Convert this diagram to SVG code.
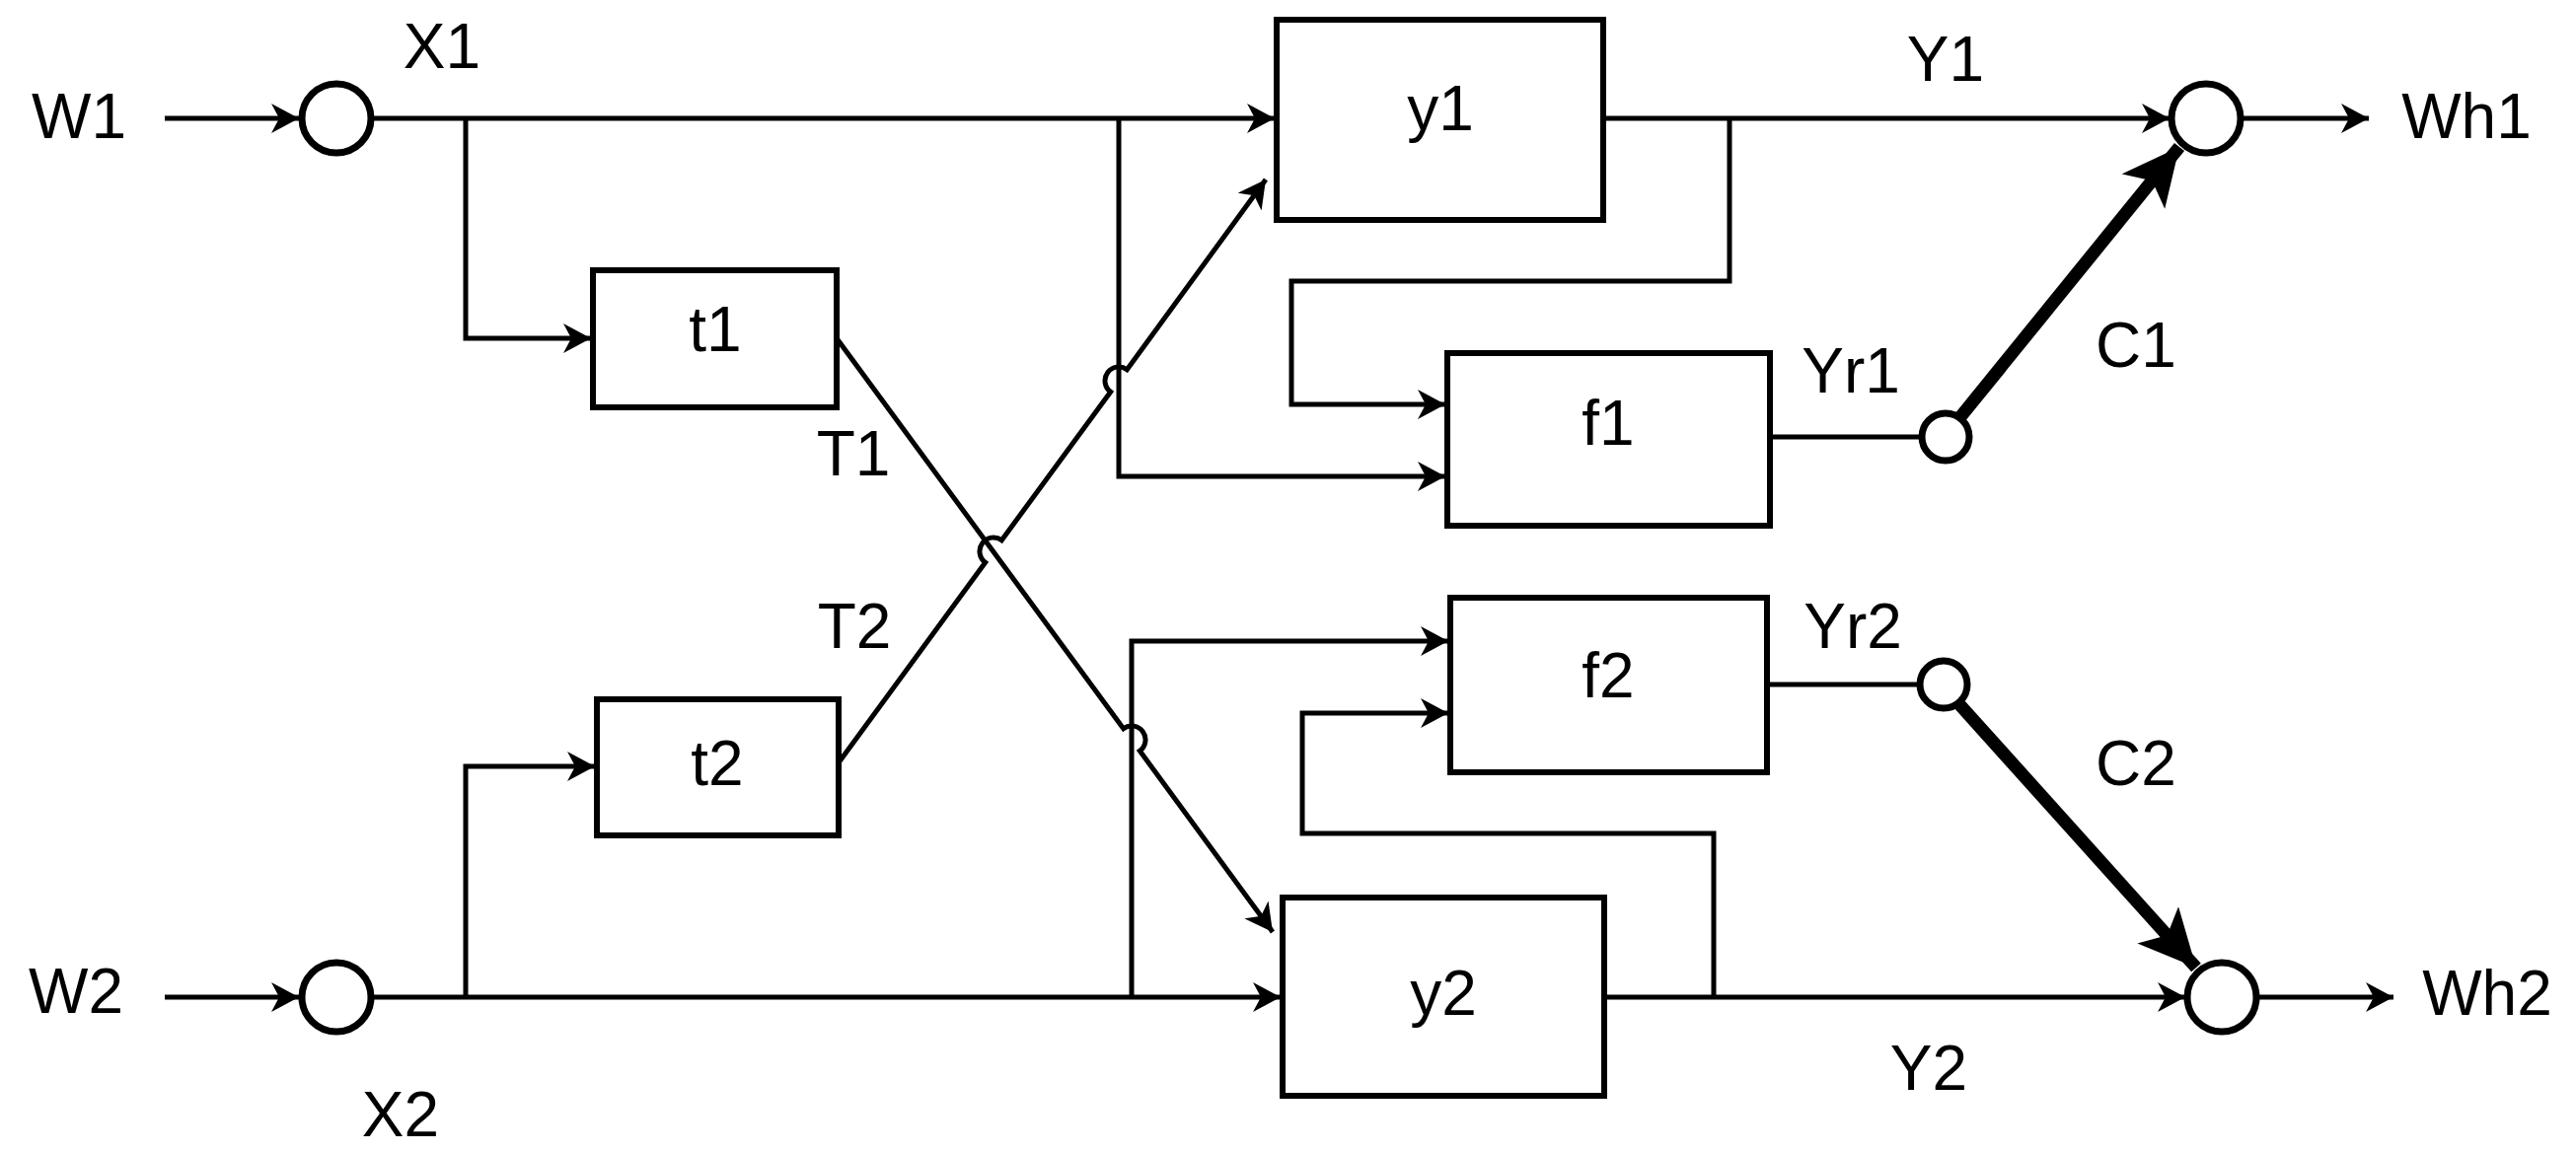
<svg xmlns="http://www.w3.org/2000/svg" width="2611" height="1168" viewBox="0 0 2611 1168">
<style>
.ln{fill:none;stroke:#000;stroke-width:5}
.thick{fill:none;stroke:#000;stroke-width:13}
.box{fill:#fff;stroke:#000;stroke-width:6}
.big{fill:#fff;stroke:#000;stroke-width:7}
.sm{fill:#fff;stroke:#000;stroke-width:7}
text{font-family:"Liberation Sans",Arial,sans-serif;font-size:64px;fill:#000;text-anchor:middle}
</style>
<defs>
<marker id="a" markerUnits="userSpaceOnUse" markerWidth="40" markerHeight="40" refX="28" refY="15" orient="auto" viewBox="0 0 40 40"><path d="M0,0 L28,15 L0,30 L8,15 z" fill="#000"/></marker>
<marker id="b" markerUnits="userSpaceOnUse" markerWidth="80" markerHeight="80" refX="58" refY="28" orient="auto" viewBox="0 0 80 80"><path d="M0,0 L58,28 L0,56 L14,28 z" fill="#000"/></marker>
</defs>
<g id="connectors">
<path class="ln" d="M167,120 H303" marker-end="url(#a)"/>
<path class="ln" d="M376,120 H1292" marker-end="url(#a)"/>
<path class="ln" d="M472,120 V343 H599" marker-end="url(#a)"/>
<path class="ln" d="M1134,120 V483 H1465" marker-end="url(#a)"/>
<path class="ln" d="M1625,120 H2199" marker-end="url(#a)"/>
<path class="ln" d="M1753,120 V285 H1309 V410 H1465" marker-end="url(#a)"/>
<path class="ln" d="M1794,443 H1946"/>
<path class="ln" d="M2271,120 H2401" marker-end="url(#a)"/>
<path class="thick" d="M1986,424 L2209,149" marker-end="url(#b)"/>
<path class="ln" d="M848,776 L998.7,570.3 A14,14 0 0 1 1015.3,547.7 L1125.7,397.3 A14,14 0 0 1 1142.3,374.7 L1283,182" marker-end="url(#a)"/>
<path class="ln" d="M848,343 L1138.7,738.7 A14,14 0 0 1 1155.3,761.3 L1290,945" marker-end="url(#a)"/>
<path class="ln" d="M167,1011 H303" marker-end="url(#a)"/>
<path class="ln" d="M376,1011 H1298" marker-end="url(#a)"/>
<path class="ln" d="M472,1011 V777 H603" marker-end="url(#a)"/>
<path class="ln" d="M1147,1011 V650 H1468" marker-end="url(#a)"/>
<path class="ln" d="M1626,1011 H2215" marker-end="url(#a)"/>
<path class="ln" d="M1737,1011 V845 H1320 V723 H1468" marker-end="url(#a)"/>
<path class="ln" d="M1791,694 H1944"/>
<path class="ln" d="M2287,1011 H2426" marker-end="url(#a)"/>
<path class="thick" d="M1985,713 L2226,981" marker-end="url(#b)"/>
</g>
<g id="W1"><text x="80" y="140">W1</text></g>
<g id="X1node"><circle class="big" cx="341" cy="120" r="35"/><text x="448" y="69">X1</text></g>
<g id="t1"><rect class="box" x="601" y="274" width="247" height="139"/><text x="725" y="356">t1</text></g>
<g id="T1"><text x="865" y="482">T1</text></g>
<g id="T2"><text x="866" y="657">T2</text></g>
<g id="t2"><rect class="box" x="605" y="709" width="245" height="138"/><text x="727" y="796">t2</text></g>
<g id="W2"><text x="77" y="1027">W2</text></g>
<g id="X2node"><circle class="big" cx="341" cy="1011" r="35"/><text x="406" y="1152">X2</text></g>
<g id="y1"><rect class="box" x="1294" y="20" width="331" height="203"/><text x="1460" y="132">y1</text></g>
<g id="f1"><rect class="box" x="1467" y="358" width="327" height="175"/><text x="1630" y="451">f1</text></g>
<g id="f2"><rect class="box" x="1470" y="606" width="321" height="177"/><text x="1630" y="707">f2</text></g>
<g id="y2"><rect class="box" x="1300" y="910" width="326" height="201"/><text x="1463" y="1029">y2</text></g>
<g id="Yr1"><circle class="sm" cx="1972" cy="443" r="24"/><text x="1876" y="398">Yr1</text></g>
<g id="Yr2"><circle class="sm" cx="1970" cy="694" r="24"/><text x="1878" y="657">Yr2</text></g>
<g id="Wh1"><circle class="big" cx="2236" cy="120" r="35"/><text x="2500" y="140">Wh1</text></g>
<g id="Wh2"><circle class="big" cx="2252" cy="1011" r="35"/><text x="2521" y="1029">Wh2</text></g>
<g id="labels">
<text x="1972" y="82">Y1</text>
<text x="2165" y="372">C1</text>
<text x="2165" y="796">C2</text>
<text x="1955" y="1105">Y2</text>
</g>
</svg>
